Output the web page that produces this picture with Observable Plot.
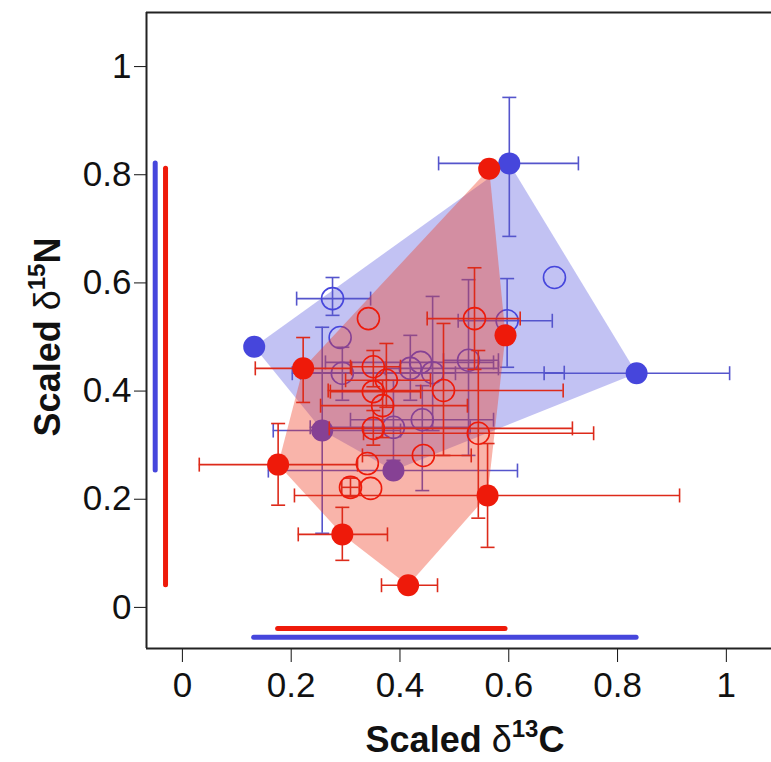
<!DOCTYPE html>
<html><head><meta charset="utf-8">
<script src="https://cdn.jsdelivr.net/npm/d3@7"></script>
<script src="https://cdn.jsdelivr.net/npm/@observablehq/plot@0.6"></script>
<style>
body{margin:0;background:#fff}
#chart svg{display:block}
</style>
</head><body><div id="chart"></div>
<script>
// ---- axis ticks ----
const xTicks = [0, 0.2, 0.4, 0.6, 0.8, 1];
const xTickLabels = ["0", "0.2", "0.4", "0.6", "0.8", "1"];
const yTicks = [0, 0.2, 0.4, 0.6, 0.8, 1];
const yTickLabels = ["0", "0.2", "0.4", "0.6", "0.8", "1"];

// ---- blue group: filled points (hull vertices) ----
const blueFilledX   = [0.601, 0.132, 0.835, 0.257, 0.388];
const blueFilledY   = [0.821, 0.482, 0.433, 0.327, 0.253];
const blueFilledXLo = [0.471, null, 0.665, 0.167, 0.158];
const blueFilledXHi = [0.728, null, 1.006, 0.401, 0.616];
const blueFilledYLo = [0.686, null, null, 0.137, null];
const blueFilledYHi = [0.943, null, null, 0.518, null];

// ---- blue group: open points ----
const blueOpenX   = [0.276, 0.290, 0.294, 0.419, 0.438, 0.460, 0.441, 0.526, 0.597, 0.684, 0.388];
const blueOpenY   = [0.571, 0.499, 0.433, 0.442, 0.453, 0.434, 0.347, 0.457, 0.530, 0.610, 0.333];
const blueOpenXLo = [0.210, null, 0.202, 0.373, 0.263, 0.217, 0.309, 0.480, 0.507, null, 0.235];
const blueOpenXHi = [0.346, null, 0.502, 0.581, 0.572, 0.702, 0.572, 0.581, 0.680, null, 0.529];
const blueOpenYLo = [0.540, null, 0.383, 0.383, null, 0.327, 0.216, 0.281, 0.444, null, 0.272];
const blueOpenYHi = [0.610, null, 0.481, 0.503, null, 0.575, 0.410, 0.606, 0.608, null, 0.420];

// ---- red group: filled points (hull vertices) ----
const redFilledX   = [0.564, 0.594, 0.222, 0.176, 0.561, 0.294, 0.415];
const redFilledY   = [0.811, 0.503, 0.442, 0.264, 0.207, 0.135, 0.041];
const redFilledXLo = [null, null, 0.134, 0.031, 0.206, 0.213, 0.366];
const redFilledXHi = [null, null, 0.311, 0.322, 0.914, 0.377, 0.469];
const redFilledYLo = [null, null, 0.379, 0.189, 0.111, 0.087, null];
const redFilledYHi = [null, null, 0.499, 0.340, 0.303, 0.185, null];

// ---- red group: open points ----
const redOpenX   = [0.342, 0.537, 0.480, 0.351, 0.375, 0.351, 0.368, 0.351, 0.544, 0.443, 0.340, 0.309, 0.346];
const redOpenY   = [0.534, 0.534, 0.401, 0.445, 0.420, 0.399, 0.373, 0.331, 0.322, 0.281, 0.266, 0.222, 0.220];
const redOpenXLo = [null, 0.450, 0.268, 0.309, 0.300, 0.272, 0.254, 0.270, 0.333, 0.331, null, 0.293, null];
const redOpenXHi = [null, 0.621, 0.700, 0.401, 0.456, 0.438, 0.524, 0.717, 0.756, 0.531, null, 0.325, null];
const redOpenYLo = [null, 0.440, 0.281, 0.408, 0.370, null, 0.314, 0.300, 0.165, null, null, 0.205, null];
const redOpenYHi = [null, 0.628, 0.525, 0.475, 0.488, null, 0.420, 0.364, 0.475, null, null, 0.239, null];

// ---- build tables ----
function rows(x, y, xlo, xhi, ylo, yhi) {
  return x.map((v, i) => ({x: v, y: y[i], xlo: xlo[i], xhi: xhi[i], ylo: ylo[i], yhi: yhi[i]}));
}
const blueFilled = rows(blueFilledX, blueFilledY, blueFilledXLo, blueFilledXHi, blueFilledYLo, blueFilledYHi);
const blueOpen   = rows(blueOpenX, blueOpenY, blueOpenXLo, blueOpenXHi, blueOpenYLo, blueOpenYHi);
const redFilled  = rows(redFilledX, redFilledY, redFilledXLo, redFilledXHi, redFilledYLo, redFilledYHi);
const redOpen    = rows(redOpenX, redOpenY, redOpenXLo, redOpenXHi, redOpenYLo, redOpenYHi);

const BLUE = "#4646dc", RED = "#ee1a0a";
const BLUE_BAR = "#5555cc", RED_BAR = "#dd2a1a";

const vCap = {draw(ctx, size) { const r = Math.sqrt(size / Math.PI); ctx.moveTo(0, -r); ctx.lineTo(0, r); }};
const hCap = {draw(ctx, size) { const r = Math.sqrt(size / Math.PI); ctx.moveTo(-r, 0); ctx.lineTo(r, 0); }};

function errorBars(data, color) {
  const hx = data.filter(d => d.xlo != null);
  const vy = data.filter(d => d.ylo != null);
  return [
    Plot.ruleY(hx, {x1: "xlo", x2: "xhi", y: "y", stroke: color, strokeWidth: 1.6}),
    Plot.ruleX(vy, {y1: "ylo", y2: "yhi", x: "x", stroke: color, strokeWidth: 1.6}),
    Plot.dot(hx, {x: "xlo", y: "y", symbol: vCap, r: 7, stroke: color, strokeWidth: 1.6, fill: "none"}),
    Plot.dot(hx, {x: "xhi", y: "y", symbol: vCap, r: 7, stroke: color, strokeWidth: 1.6, fill: "none"}),
    Plot.dot(vy, {x: "x", y: "ylo", symbol: hCap, r: 7, stroke: color, strokeWidth: 1.6, fill: "none"}),
    Plot.dot(vy, {x: "x", y: "yhi", symbol: hCap, r: 7, stroke: color, strokeWidth: 1.6, fill: "none"})
  ];
}

const X0 = -0.066, X1 = 1.083, Y0 = -0.076, Y1 = 1.100;
const blueYExt = d3.extent(blueFilledY), redYExt = d3.extent(redFilledY);
const blueXExt = d3.extent(blueFilledX), redXExt = d3.extent(redFilledX);

const plot = Plot.plot({
  width: 771,
  height: 762,
  marginLeft: 146,
  marginRight: 0,
  marginTop: 12,
  marginBottom: 114,
  style: {fontFamily: "'Liberation Sans', Arial, sans-serif", fontSize: "35px", color: "#111", background: "#fff"},
  x: {domain: [X0, X1], ticks: xTicks, tickFormat: d => xTickLabels[xTicks.indexOf(d)], tickSize: 14, tickPadding: 10, label: null, line: false},
  y: {domain: [Y0, Y1], ticks: yTicks, tickFormat: d => yTickLabels[yTicks.indexOf(d)], tickSize: 12, tickPadding: 3, label: null, line: false},
  marks: [
    // blue group
    Plot.hull(blueFilled, {x: "x", y: "y", fill: BLUE, fillOpacity: 0.33, stroke: "none"}),
    ...errorBars(blueFilled.concat(blueOpen), BLUE_BAR),
    Plot.dot(blueOpen, {x: "x", y: "y", r: 11, stroke: BLUE, strokeWidth: 1.6, fill: "none"}),
    Plot.dot(blueFilled, {x: "x", y: "y", r: 11, fill: BLUE, stroke: "none"}),
    // red group
    Plot.hull(redFilled, {x: "x", y: "y", fill: "#f03a20", fillOpacity: 0.38, stroke: "none"}),
    ...errorBars(redFilled.concat(redOpen), RED_BAR),
    Plot.dot(redOpen, {x: "x", y: "y", r: 11, stroke: RED, strokeWidth: 1.6, fill: "none"}),
    Plot.dot(redFilled, {x: "x", y: "y", r: 11, fill: RED, stroke: "none"}),
    // marginal ranges of the filled points
    Plot.ruleX([blueYExt], {x: -0.050, y1: d => d[0], y2: d => d[1], stroke: BLUE, strokeWidth: 5, strokeLinecap: "round"}),
    Plot.ruleX([redYExt], {x: -0.031, y1: d => d[0], y2: d => d[1], stroke: RED, strokeWidth: 5, strokeLinecap: "round"}),
    Plot.ruleY([redXExt], {y: -0.039, x1: d => d[0], x2: d => d[1], stroke: RED, strokeWidth: 5, strokeLinecap: "round"}),
    Plot.ruleY([blueXExt], {y: -0.055, x1: d => d[0], x2: d => d[1], stroke: BLUE, strokeWidth: 5, strokeLinecap: "round"}),
    // box (right side lies outside the picture)
    Plot.ruleX([X0], {stroke: "#222", strokeWidth: 2}),
    Plot.ruleY([Y0, Y1], {stroke: "#222", strokeWidth: 2})
  ]
});
document.getElementById("chart").appendChild(plot);

// axis titles with superscripts
const svg = d3.select(plot);
function title(sel, sup, tail) {
  sel.attr("text-anchor", "middle")
    .attr("font-family", "'Liberation Sans', Arial, sans-serif")
    .attr("font-weight", "bold").attr("font-size", 36).attr("fill", "#111");
  sel.append("tspan").text("Scaled ");
  sel.append("tspan").attr("font-weight", "normal").text("δ");
  sel.append("tspan").attr("font-size", 24).attr("dy", -15).text(sup);
  sel.append("tspan").attr("dy", 15).text(tail);
}
title(svg.append("text").attr("x", 465).attr("y", 752), "13", "C");
title(svg.append("text").attr("transform", "translate(60,337) rotate(-90)"), "15", "N");
</script>
</body></html>
